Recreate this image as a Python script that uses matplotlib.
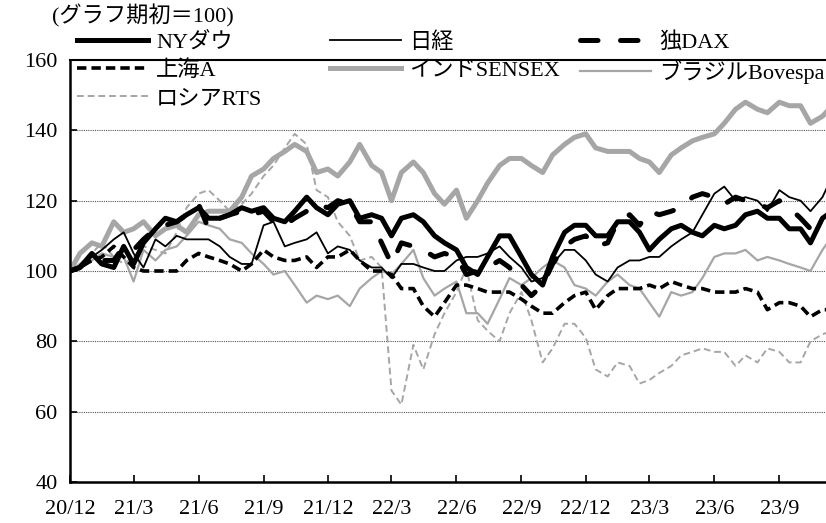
import matplotlib.pyplot as plt
import matplotlib.dates as mdates
from matplotlib.lines import Line2D
import pandas as pd

plt.rcParams['font.family'] = ['Liberation Serif', 'Noto Sans CJK JP']
plt.rcParams['font.size'] = 16

# 半月ごとの値(グラフ期初=100)
dates = pd.date_range('2020-12-01', periods=72, freq='SMS')

ny_dow = [100, 101, 105, 102, 101, 107, 102, 108, 112, 115, 114, 116,
          118, 115, 115, 116, 118, 117, 118, 115, 114, 117, 121, 118,
          116, 119, 120, 115, 116, 115, 110, 115, 116, 114, 110, 108,
          106, 101, 99, 104, 110, 110, 104, 99, 96, 104, 111, 113,
          113, 110, 110, 114, 114, 111, 106, 109, 112, 113, 111, 110,
          113, 112, 113, 116, 117, 115, 115, 112, 112, 108, 115, 117]
nikkei = [100, 101, 104, 106, 109, 111, 105, 101, 109, 107, 110, 109,
          109, 109, 107, 104, 102, 102, 113, 114, 107, 108, 109, 111,
          105, 107, 106, 103, 101, 101, 98, 102, 102, 101, 100, 100,
          103, 104, 104, 105, 107, 104, 101, 97, 98, 102, 106, 106,
          103, 99, 97, 101, 103, 103, 104, 104, 107, 109, 111, 116,
          122, 124, 120, 121, 120, 117, 123, 121, 120, 117, 121, 127]
dax = [100, 101, 104, 103, 103, 107, 106, 109, 112, 113, 114, 116,
       119, 112, 115, 116, 117, 116, 117, 114, 113, 115, 117, 119,
       118, 120, 119, 114, 114, 108, 102, 108, 107, 106, 104, 105,
       104, 99, 100, 101, 103, 101, 96, 93, 96, 102, 107, 109,
       110, 107, 108, 114, 116, 113, 117, 116, 117, 118, 121, 122,
       121, 119, 121, 120, 119, 118, 120, 118, 115, 112, 114, 117]
shanghai = [100, 101, 103, 104, 107, 104, 101, 100, 100, 100, 100, 103,
            105, 104, 103, 102, 100, 102, 106, 104, 103, 103, 104, 101,
            104, 104, 106, 103, 100, 100, 99, 95, 95, 90, 87, 91,
            96, 96, 95, 94, 94, 94, 92, 90, 88, 88, 91, 93,
            94, 89, 93, 95, 95, 95, 96, 95, 97, 96, 95, 95,
            94, 94, 94, 95, 94, 89, 91, 91, 90, 87, 89, 89]
sensex = [100, 105, 108, 107, 114, 111, 112, 114, 110, 112, 113, 111,
          116, 117, 117, 117, 121, 127, 129, 132, 134, 136, 134, 128,
          129, 127, 131, 136, 130, 128, 120, 128, 131, 128, 122, 119,
          123, 115, 120, 125, 130, 132, 132, 130, 128, 133, 136, 138,
          139, 135, 134, 134, 134, 132, 131, 128, 133, 135, 137, 138,
          139, 142, 146, 148, 146, 145, 148, 147, 147, 142, 144, 147]
bovespa = [100, 102, 103, 105, 104, 104, 97, 106, 103, 106, 107, 110,
           114, 113, 112, 109, 108, 105, 102, 99, 100, 96, 91, 93,
           92, 93, 90, 95, 98, 100, 99, 102, 106, 98, 93, 95,
           97, 88, 88, 85, 92, 98, 96, 98, 101, 103, 101, 96,
           95, 93, 97, 99, 96, 95, 91, 87, 94, 93, 94, 98,
           104, 105, 105, 106, 103, 104, 103, 102, 101, 100, 106, 110]
rts = [100, 102, 105, 108, 104, 102, 104, 107, 106, 105, 111, 118,
       122, 123, 120, 117, 119, 122, 127, 130, 135, 139, 136, 123,
       121, 114, 110, 103, 104, 101, 66, 62, 79, 72, 82, 88,
       94, 101, 86, 83, 80, 88, 94, 86, 74, 78, 85, 85,
       81, 72, 70, 74, 73, 68, 69, 71, 73, 76, 77, 78,
       77, 77, 73, 76, 74, 78, 77, 74, 74, 80, 82, 83]

tick_dates = pd.date_range('2020-12-01', periods=12, freq='3MS')
tick_labels = ['20/12', '21/3', '21/6', '21/9', '21/12', '22/3',
               '22/6', '22/9', '22/12', '23/3', '23/6', '23/9']

gray = '#a6a6a6'

fig = plt.figure(figsize=(8.26, 5.23), dpi=100)
ax = fig.add_axes([70 / 826, 1 - 482 / 523, 756 / 826, 422 / 523])

# 系列
l_sensex, = ax.plot(dates, sensex, color=gray, lw=3.6, solid_joinstyle='round')
l_bov, = ax.plot(dates, bovespa, color=gray, lw=1.6)
l_rts, = ax.plot(dates, rts, color=gray, lw=1.4, dashes=(3.5, 2))
l_sh, = ax.plot(dates, shanghai, color='black', lw=2.6, dashes=(2.6, 1.4))
l_dax, = ax.plot(dates, dax, color='black', lw=3.6, dashes=(3.5, 4.5),
                 dash_capstyle='round')
l_nk, = ax.plot(dates, nikkei, color='black', lw=1.3)
l_ny, = ax.plot(dates, ny_dow, color='black', lw=3.6, solid_joinstyle='round')

ax.set_ylim(40, 160)
ax.set_yticks(range(40, 161, 20))
ax.set_xlim(pd.Timestamp('2020-12-01'), pd.Timestamp('2023-11-06'))
ax.set_xticks(tick_dates)
ax.set_xticklabels(tick_labels)
ax.tick_params(axis='both', direction='in', length=5, width=1.2, labelsize=16)
ax.tick_params(axis='x', pad=13)
ax.tick_params(axis='y', pad=9)

# 補助線
for v in range(60, 141, 20):
    ax.axhline(v, color='#555555', lw=0.8, ls=(0, (1, 1)), zorder=0)

for s in ['left', 'bottom']:
    ax.spines[s].set_linewidth(1.8)
ax.spines['top'].set_linewidth(1.5)
ax.spines['right'].set_visible(False)

fig.text(52 / 826, 1 - 16 / 523, '(グラフ期初＝100)', va='center', ha='left',
         fontsize=16)

# 凡例(3列)
leg_kw = dict(loc='upper left', frameon=False, fontsize=16, borderpad=0,
              borderaxespad=0, handlelength=3.2, handletextpad=0.35,
              labelspacing=0.34)
fig.legend([l_ny, l_sh, l_rts], ['NYダウ', '上海A', 'ロシアRTS'],
           bbox_to_anchor=(77 / 826, 1 - 32 / 523), **leg_kw)
fig.legend([l_nk, l_sensex], ['日経', 'インドSENSEX'],
           bbox_to_anchor=(330 / 826, 1 - 32 / 523), **leg_kw)
fig.legend([l_dax, l_bov], ['独DAX', 'ブラジルBovespa'],
           bbox_to_anchor=(580 / 826, 1 - 32 / 523), **leg_kw)

plt.savefig('out.png', dpi=100)
